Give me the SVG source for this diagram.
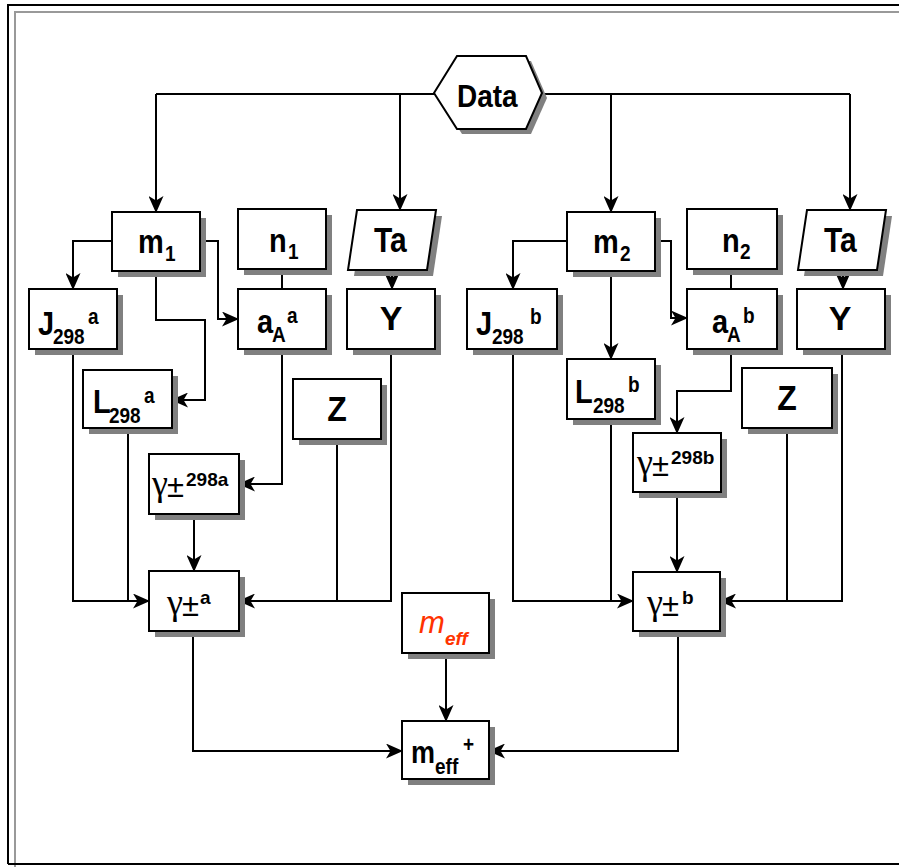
<svg xmlns="http://www.w3.org/2000/svg" width="899" height="867" viewBox="0 0 899 867">
<defs>
<marker id="arr" markerUnits="userSpaceOnUse" markerWidth="17" markerHeight="15" refX="16" refY="7.5" orient="auto">
<path d="M0,0 L17,7.5 L0,15 L4.5,7.5 Z" fill="#000"/>
</marker>
</defs>
<style>
.box{fill:#fff;stroke:#000;stroke-width:2}
.sh{fill:#808080;stroke:none}
.c{fill:none;stroke:#000;stroke-width:2}
.ca{fill:none;stroke:#000;stroke-width:2;marker-end:url(#arr)}
text{font-family:"Liberation Sans",Arial,sans-serif;font-weight:bold;fill:#000}
.m{font-size:29px}
.s{font-size:19px}
.g{font-family:"Liberation Serif","Times New Roman",serif;font-weight:normal;font-size:36px}
.pm{font-weight:normal;font-size:31px}
</style>
<rect x="0" y="0" width="899" height="867" fill="#fff"/>
<g id="frame">
<path d="M15,867 V12 H899" fill="none" stroke="#999" stroke-width="2"/>
<path d="M8,864 V5 H899" fill="none" stroke="#000" stroke-width="2"/>
<path d="M8,864 H899" fill="none" stroke="#000" stroke-width="2"/>
</g>
<g id="connectors">
<path class="c" d="M434,94 H156"/>
<path class="ca" d="M156,94 V212"/>
<path class="ca" d="M400,94 V210"/>
<path class="c" d="M542,94 H850"/>
<path class="ca" d="M611,94 V212"/>
<path class="ca" d="M850,94 V210"/>
<path class="ca" d="M112,241 H73 V289"/>
<path class="ca" d="M156,271 V320 H205 V400 H172"/>
<path class="ca" d="M200,241 H218 V319 H238"/>
<path class="c" d="M282,269 V289"/>
<path class="ca" d="M392,270 V289"/>
<path class="ca" d="M282,349 V484 H239"/>
<path class="ca" d="M73,349 V601 H149"/>
<path class="c" d="M128,428 V601"/>
<path class="ca" d="M194,514 V571"/>
<path class="c" d="M337,439 V601"/>
<path class="ca" d="M391,349 V601 H239"/>
<path class="ca" d="M193,631 V751 H402"/>
<path class="ca" d="M446,653 V721"/>
<path class="ca" d="M678,631 V751 H489"/>
<path class="ca" d="M567,241 H513 V289"/>
<path class="ca" d="M611,271 V359"/>
<path class="ca" d="M655,241 H671 V318 H687"/>
<path class="c" d="M731,269 V289"/>
<path class="ca" d="M843,270 V289"/>
<path class="ca" d="M731,349 V391 H677 V433"/>
<path class="ca" d="M513,349 V601 H633"/>
<path class="c" d="M611,419 V601"/>
<path class="ca" d="M677,492 V572"/>
<path class="c" d="M787,428 V601"/>
<path class="ca" d="M842,349 V601 H720"/>
</g>
<g id="data">
<polygon class="sh" points="439,98 462,61 531,61 547,98 531,134 462,134"/>
<polygon class="box" points="434,93 457,56 526,56 542,93 526,129 457,129"/>
<text class="m" transform="translate(457,107) scale(1,1.15)" style="font-size:28px">Data</text>
</g>
<g id="m1">
<rect class="sh" x="118" y="218" width="88" height="59"/>
<rect class="box" x="112" y="212" width="88" height="59"/>
<text transform="translate(138,253) scale(1,1.15)"><tspan class="m" x="0" y="0">m</tspan><tspan class="s" x="27" y="7">1</tspan></text>
</g>
<g id="n1">
<rect class="sh" x="244" y="215" width="88" height="60"/>
<rect class="box" x="238" y="209" width="88" height="60"/>
<text transform="translate(269,252) scale(1,1.15)"><tspan class="m" x="0" y="0">n</tspan><tspan class="s" x="19" y="6">1</tspan></text>
</g>
<g id="ta1">
<polygon class="sh" points="363,216 442,216 433,276 354,276"/>
<polygon class="box" points="357,210 436,210 427,270 348,270"/>
<text transform="translate(374,252) scale(1,1.15)" style="font-size:30px">Ta</text>
</g>
<g id="j298a">
<rect class="sh" x="35" y="295" width="88" height="60"/>
<rect class="box" x="29" y="289" width="88" height="60"/>
<text transform="translate(38,335) scale(1,1.15)"><tspan class="m" x="0" y="0">J</tspan><tspan class="s" x="15" y="8">298</tspan><tspan class="s" x="50" y="-10">a</tspan></text>
</g>
<g id="aAa">
<rect class="sh" x="244" y="295" width="88" height="60"/>
<rect class="box" x="238" y="289" width="88" height="60"/>
<text transform="translate(257,333) scale(1,1.15)"><tspan class="m" x="0" y="0">a</tspan><tspan class="s" x="15" y="8">A</tspan><tspan class="s" x="30" y="-8.5">a</tspan></text>
</g>
<g id="y1">
<rect class="sh" x="353" y="295" width="88" height="60"/>
<rect class="box" x="347" y="289" width="88" height="60"/>
<text x="391" y="330" text-anchor="middle" style="font-size:34px">Y</text>
</g>
<g id="l298a">
<rect class="sh" x="89" y="376" width="89" height="58"/>
<rect class="box" x="83" y="370" width="89" height="58"/>
<text transform="translate(93,413) scale(1,1.15)"><tspan class="m" x="0" y="0">L</tspan><tspan class="s" x="16" y="8.5">298</tspan><tspan class="s" x="51" y="-9">a</tspan></text>
</g>
<g id="z1">
<rect class="sh" x="299" y="385" width="88" height="60"/>
<rect class="box" x="293" y="379" width="88" height="60"/>
<text transform="translate(337,421) scale(1,1.1)" text-anchor="middle" style="font-size:32px">Z</text>
</g>
<g id="g298a">
<rect class="sh" x="155" y="460" width="90" height="60"/>
<rect class="box" x="149" y="454" width="90" height="60"/>
<text><tspan class="g" x="152" y="495">γ</tspan><tspan class="pm" x="167" y="497">±</tspan><tspan class="s" x="186" y="486">298a</tspan></text>
</g>
<g id="ga">
<rect class="sh" x="155" y="577" width="90" height="60"/>
<rect class="box" x="149" y="571" width="90" height="60"/>
<text><tspan class="g" x="167" y="614">γ</tspan><tspan class="pm" x="182" y="616">±</tspan><tspan class="s" x="200" y="604">a</tspan></text>
</g>
<g id="meff">
<rect class="sh" x="408" y="599" width="87" height="60"/>
<rect class="box" x="402" y="593" width="87" height="60"/>
<text style="fill:#ff3300;font-style:italic"><tspan x="419" y="633" style="font-size:31px;font-weight:normal;fill:#ff3300">m</tspan><tspan x="445" y="645" style="font-size:19px;fill:#ff3300">eff</tspan></text>
</g>
<g id="meffplus">
<rect class="sh" x="408" y="727" width="87" height="58"/>
<rect class="box" x="402" y="721" width="87" height="58"/>
<text transform="translate(411,763) scale(1,1.15)"><tspan x="0" y="0" style="font-size:27px">m</tspan><tspan class="s" x="24" y="9.6">eff</tspan><tspan class="s" x="52" y="-9.6">+</tspan></text>
</g>
<g id="m2">
<rect class="sh" x="573" y="218" width="88" height="59"/>
<rect class="box" x="567" y="212" width="88" height="59"/>
<text transform="translate(593,253) scale(1,1.15)"><tspan class="m" x="0" y="0">m</tspan><tspan class="s" x="27" y="7">2</tspan></text>
</g>
<g id="n2">
<rect class="sh" x="693" y="215" width="90" height="60"/>
<rect class="box" x="687" y="209" width="90" height="60"/>
<text transform="translate(722,252) scale(1,1.15)"><tspan class="m" x="0" y="0">n</tspan><tspan class="s" x="18" y="6">2</tspan></text>
</g>
<g id="ta2">
<polygon class="sh" points="813,216 892,216 883,276 804,276"/>
<polygon class="box" points="807,210 886,210 877,270 798,270"/>
<text transform="translate(824,252) scale(1,1.15)" style="font-size:30px">Ta</text>
</g>
<g id="j298b">
<rect class="sh" x="473" y="295" width="90" height="60"/>
<rect class="box" x="467" y="289" width="90" height="60"/>
<text transform="translate(476,335) scale(1,1.15)"><tspan class="m" x="0" y="0">J</tspan><tspan class="s" x="16" y="8">298</tspan><tspan class="s" x="54" y="-10">b</tspan></text>
</g>
<g id="aAb">
<rect class="sh" x="693" y="295" width="90" height="60"/>
<rect class="box" x="687" y="289" width="90" height="60"/>
<text transform="translate(712,333) scale(1,1.15)"><tspan class="m" x="0" y="0">a</tspan><tspan class="s" x="15" y="8">A</tspan><tspan class="s" x="31" y="-8.5">b</tspan></text>
</g>
<g id="y2">
<rect class="sh" x="803" y="295" width="88" height="60"/>
<rect class="box" x="797" y="289" width="88" height="60"/>
<text x="840" y="330" text-anchor="middle" style="font-size:34px">Y</text>
</g>
<g id="l298b">
<rect class="sh" x="573" y="365" width="88" height="60"/>
<rect class="box" x="567" y="359" width="88" height="60"/>
<text transform="translate(575,403) scale(1,1.15)"><tspan class="m" x="0" y="0">L</tspan><tspan class="s" x="18" y="8.7">298</tspan><tspan class="s" x="53" y="-9.5">b</tspan></text>
</g>
<g id="z2">
<rect class="sh" x="748" y="374" width="90" height="60"/>
<rect class="box" x="742" y="368" width="90" height="60"/>
<text transform="translate(787,410) scale(1,1.1)" text-anchor="middle" style="font-size:32px">Z</text>
</g>
<g id="g298b">
<rect class="sh" x="639" y="439" width="88" height="59"/>
<rect class="box" x="633" y="433" width="88" height="59"/>
<text><tspan class="g" x="637" y="474">γ</tspan><tspan class="pm" x="652" y="476">±</tspan><tspan class="s" x="671" y="464">298b</tspan></text>
</g>
<g id="gb">
<rect class="sh" x="639" y="578" width="87" height="59"/>
<rect class="box" x="633" y="572" width="87" height="59"/>
<text><tspan class="g" x="647" y="614">γ</tspan><tspan class="pm" x="662" y="616">±</tspan><tspan class="s" x="682" y="604">b</tspan></text>
</g>
</svg>
